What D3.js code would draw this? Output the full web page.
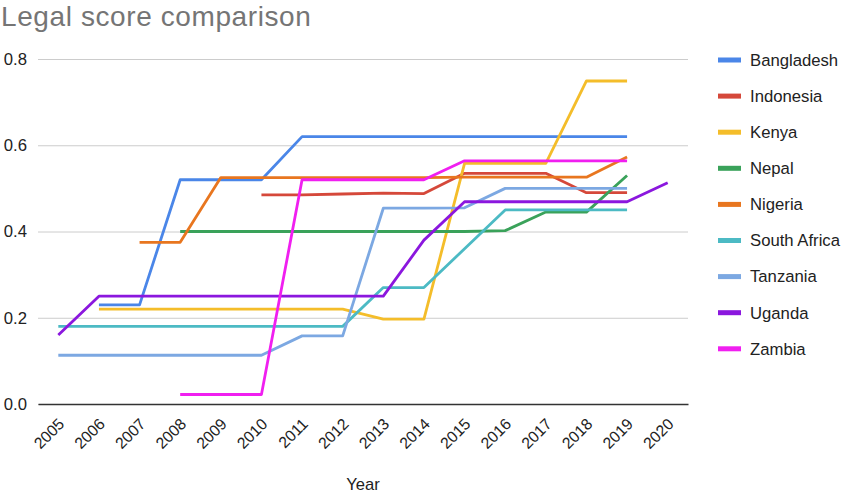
<!DOCTYPE html>
<meta charset="utf-8">
<style>
body { margin: 0; background: #fff; }
svg { display: block; }
text { font-family: "Liberation Sans", Arial, sans-serif; }
.title { font-size: 28px; fill: #757575; letter-spacing: 0.6px; }
.y-axis .tick text { font-size: 16.7px; fill: #222; }
.x-axis .tick text { font-size: 15.8px; fill: #222; }
.legend text { font-size: 16.7px; fill: #222; }
.axis-title { font-size: 16.6px; fill: #222; }
</style>
<body>
<script src="https://cdn.jsdelivr.net/npm/d3@7"></script>
<script>
// years on the x axis
var years = ["2005","2006","2007","2008","2009","2010","2011","2012","2013","2014","2015","2016","2017","2018","2019","2020"];
var yTicks = [0, 0.2, 0.4, 0.6, 0.8];

// one array per country, null where there is no value (aligned to years)
var bangladesh  = [null, 0.23, 0.23, 0.52, 0.52, 0.52, 0.62, 0.62, 0.62, 0.62, 0.62, 0.62, 0.62, 0.62, 0.62, null];
var indonesia   = [null, null, null, null, null, 0.485, 0.485, 0.487, 0.489, 0.488, 0.535, 0.535, 0.535, 0.49, 0.49, null];
var kenya       = [null, 0.22, 0.22, 0.22, 0.22, 0.22, 0.22, 0.22, 0.197, 0.197, 0.558, 0.558, 0.558, 0.749, 0.749, null];
var nepal       = [null, null, null, 0.4, 0.4, 0.4, 0.4, 0.4, 0.4, 0.4, 0.4, 0.402, 0.445, 0.445, 0.53, null];
var nigeria     = [null, null, 0.375, 0.375, 0.525, 0.525, 0.525, 0.525, 0.525, 0.525, 0.526, 0.526, 0.526, 0.526, 0.573, null];
var southAfrica = [0.18, 0.18, 0.18, 0.18, 0.18, 0.18, 0.18, 0.18, 0.27, 0.27, 0.36, 0.45, 0.45, 0.45, 0.45, null];
var tanzania    = [0.113, 0.113, 0.113, 0.113, 0.113, 0.113, 0.158, 0.158, 0.454, 0.454, 0.455, 0.5, 0.5, 0.5, 0.5, null];
var uganda      = [0.16, 0.25, 0.25, 0.25, 0.25, 0.25, 0.25, 0.25, 0.25, 0.38, 0.469, 0.469, 0.469, 0.469, 0.469, 0.513];
var zambia      = [null, null, null, 0.022, 0.022, 0.022, 0.52, 0.52, 0.52, 0.52, 0.564, 0.564, 0.564, 0.564, 0.564, null];

var series = [
  {name: "Bangladesh", values: bangladesh, color: "#4a86e8"},
  {name: "Indonesia", values: indonesia, color: "#d5483a"},
  {name: "Kenya", values: kenya, color: "#f4bd2a"},
  {name: "Nepal", values: nepal, color: "#3aa25a"},
  {name: "Nigeria", values: nigeria, color: "#e8761f"},
  {name: "South Africa", values: southAfrica, color: "#4cbac4"},
  {name: "Tanzania", values: tanzania, color: "#7ca8e2"},
  {name: "Uganda", values: uganda, color: "#8b17de"},
  {name: "Zambia", values: zambia, color: "#f01ff0"}
];

var W = 847, H = 494;
var margin = {top: 59, right: 159, bottom: 90, left: 38},
    width = W - margin.left - margin.right,
    height = H - margin.top - margin.bottom;

var svg = d3.select("body").append("svg")
    .attr("width", W)
    .attr("height", H);

svg.append("text")
    .attr("class", "title")
    .attr("x", 1)
    .attr("y", 26)
    .text("Legal score comparison");

var g = svg.append("g")
    .attr("transform", "translate(" + margin.left + "," + margin.top + ")");

var x = d3.scalePoint()
    .domain(years)
    .range([0, width])
    .padding(0.5);

var y = d3.scaleLinear()
    .domain([0, 0.8])
    .range([height, 0]);

// gridlines + y labels
var yAxis = g.append("g")
    .attr("class", "y-axis")
    .call(d3.axisLeft(y).tickValues(yTicks).tickSize(-width).tickFormat(d3.format(".1f")));
yAxis.select(".domain").remove();
yAxis.selectAll(".tick line").attr("stroke", "#cccccc");
yAxis.selectAll(".tick text").attr("x", -11);

// x axis
var xAxis = g.append("g")
    .attr("class", "x-axis")
    .attr("transform", "translate(0," + height + ")")
    .call(d3.axisBottom(x).tickSize(0));
xAxis.select(".domain").attr("stroke", "#333").attr("stroke-width", 1.5);
xAxis.selectAll(".tick text")
    .attr("text-anchor", "end")
    .attr("x", 0)
    .attr("y", 0)
    .attr("dy", 0)
    .attr("transform", "translate(6.5,21) rotate(-45)");

svg.append("text")
    .attr("class", "axis-title")
    .attr("x", margin.left + width / 2)
    .attr("y", 490)
    .attr("text-anchor", "middle")
    .text("Year");

var line = d3.line()
    .defined(function(d) { return d != null; })
    .x(function(d, i) { return x(years[i]); })
    .y(function(d) { return y(d); });

g.selectAll(".series")
    .data(series)
    .enter().append("path")
    .attr("class", "series")
    .attr("fill", "none")
    .attr("stroke", function(d) { return d.color; })
    .attr("stroke-width", 2.8)
    .attr("stroke-linejoin", "round")
    .attr("d", function(d) { return line(d.values); });

// legend
var legend = svg.append("g")
    .attr("class", "legend")
    .attr("transform", "translate(718,60)");

var items = legend.selectAll("g")
    .data(series)
    .enter().append("g")
    .attr("transform", function(d, i) { return "translate(0," + (i * 36.1) + ")"; });

items.append("rect")
    .attr("x", 0)
    .attr("y", -2.5)
    .attr("width", 23)
    .attr("height", 5)
    .attr("fill", function(d) { return d.color; });

items.append("text")
    .attr("x", 32)
    .attr("y", 0)
    .attr("dy", "0.35em")
    .text(function(d) { return d.name; });
</script>
</body>
